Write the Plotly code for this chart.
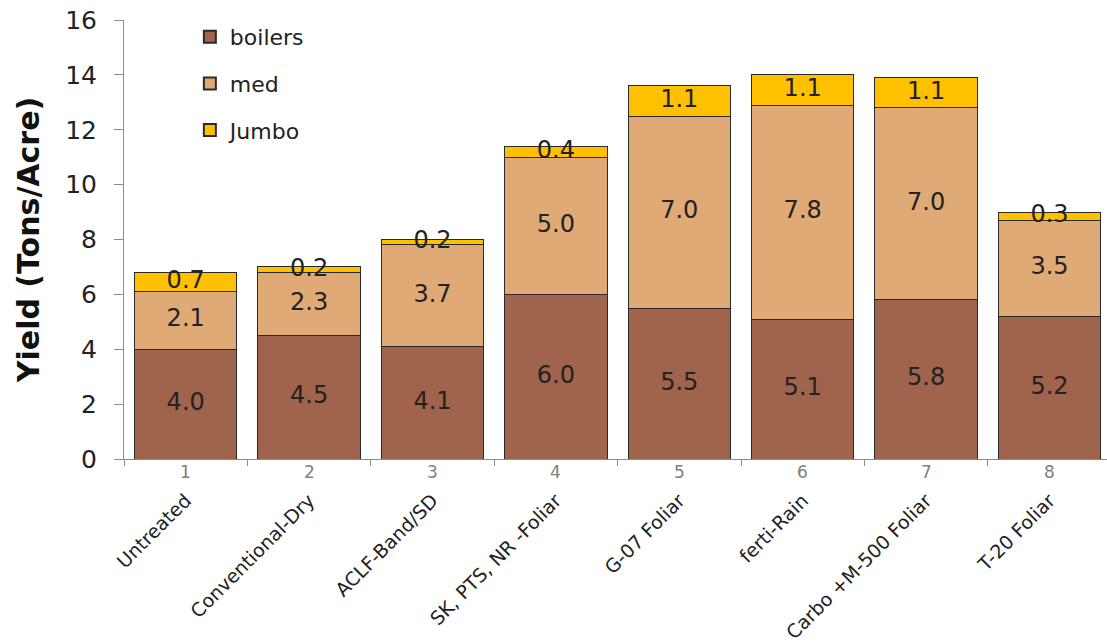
import plotly.graph_objects as go

categories = ["Untreated", "Conventional-Dry", "ACLF-Band/SD", "SK, PTS, NR -Foliar",
              "G-07 Foliar", "ferti-Rain", "Carbo +M-500 Foliar", "T-20 Foliar"]
numbers = ["1", "2", "3", "4", "5", "6", "7", "8"]
boilers = [4.0, 4.5, 4.1, 6.0, 5.5, 5.1, 5.8, 5.2]
med = [2.1, 2.3, 3.7, 5.0, 7.0, 7.8, 7.0, 3.5]
jumbo = [0.7, 0.2, 0.2, 0.4, 1.1, 1.1, 1.1, 0.3]

series = [("boilers", boilers, "#A0634B"),
          ("med", med, "#DFAA75"),
          ("Jumbo", jumbo, "#FFC000")]

font_family = "DejaVu Sans"
fig = go.Figure()

base = [0.0] * len(categories)
for name, vals, color in series:
    fig.add_trace(go.Bar(
        x=categories, y=vals, name=name, legendgroup=name,
        marker=dict(color=color, line=dict(color="#2a2a2a", width=1)),
        hoverinfo="skip",
    ))
    mids = [b + v / 2 for b, v in zip(base, vals)]
    fig.add_trace(go.Scatter(
        x=categories, y=mids, mode="text",
        text=[f"{v:.1f}" for v in vals],
        textfont=dict(family=font_family, size=24, color="#222222"),
        showlegend=False, hoverinfo="skip",
    ))
    base = [b + v for b, v in zip(base, vals)]

# small grey index numbers under each category
for cat, num in zip(categories, numbers):
    fig.add_annotation(x=cat, y=0, xref="x", yref="y", text=num,
                       showarrow=False, yanchor="top", yshift=-1,
                       font=dict(family=font_family, size=17, color="#808080"))

fig.update_layout(
    barmode="stack",
    bargap=0.17,
    width=1107, height=643,
    margin=dict(l=124, r=0, t=20, b=179),
    plot_bgcolor="white", paper_bgcolor="white",
    font=dict(family=font_family, color="#222222"),
    showlegend=True,
    legend=dict(x=0.067, y=1.009, xanchor="left", yanchor="top",
                traceorder="grouped", tracegroupgap=15,
                font=dict(family=font_family, size=22, color="#222222"),
                bgcolor="rgba(0,0,0,0)", itemsizing="constant"),
    xaxis=dict(
        type="category", tickson="boundaries", ticks="outside", ticklen=6,
        range=[-0.5, 7.466],
        tickcolor="#8c8c8c", showline=True, linecolor="#8c8c8c", linewidth=1,
        tickangle=-45, ticklabelstandoff=22,
        tickfont=dict(family=font_family, size=19, color="#222222"),
        showgrid=False, zeroline=False,
    ),
    yaxis=dict(
        range=[0, 16], dtick=2, ticks="outside", ticklen=9, tickcolor="#8c8c8c",
        showline=True, linecolor="#8c8c8c", linewidth=1,
        showgrid=False, zeroline=False, ticklabelstandoff=12,
        tickfont=dict(family=font_family, size=25, color="#222222"),
        title=dict(text="<b>Yield (Tons/Acre)</b>", standoff=16,
                   font=dict(family=font_family, size=30, color="#111111")),
    ),
)

fig.write_html("out.html")
